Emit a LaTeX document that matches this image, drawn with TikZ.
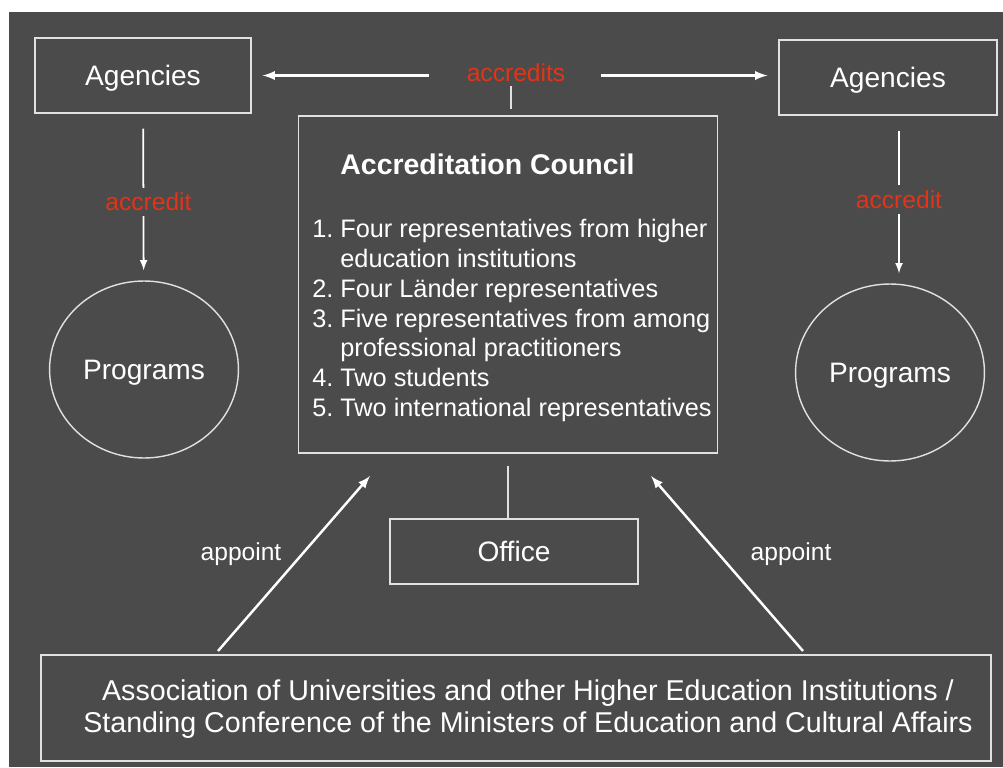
\documentclass[tikz,border=0pt]{standalone}
\usepackage{fontspec}
\setmainfont{Liberation Sans}
\usepackage{xcolor}
\usetikzlibrary{shapes.geometric}
\definecolor{slate}{RGB}{75,75,75}
\definecolor{rim}{RGB}{225,225,225}
\definecolor{redtext}{RGB}{226,52,22}

\begin{document}
\begin{tikzpicture}[x=0.02cm, y=-0.02cm,
  box/.style={rectangle, draw=rim, line width=0.8pt, text=white, font=\fontsize{16}{19}\selectfont, text height=11.5pt, text depth=0pt},
  roundnode/.style={ellipse, draw=rim, line width=0.8pt, text=white, font=\fontsize{16}{19}\selectfont, text height=11.5pt, text depth=0pt, minimum width=3.7cm, minimum height=3.54cm},
  redlabel/.style={text=redtext, font=\fontsize{14}{17}\selectfont, fill=slate, inner sep=3pt},
  whitelabel/.style={text=white, font=\fontsize{14}{17}\selectfont}]
            \useasboundingbox (0,0) rectangle (1003,767);
            \fill[slate] (9,12) rectangle (1003,767);

            \node[box, minimum width=4.32cm, minimum height=1.5cm] (agL) at (143,75.5) {Agencies};
            \node[box, minimum width=4.36cm, minimum height=1.5cm] (agR) at (888,77.5) {Agencies};
            \node[redlabel, fill=none] (accr) at (516,73) {accredits};
            \node[box, minimum width=8.36cm, minimum height=6.74cm, text height=, text depth=] (council) at (508,284.5) {%
              \fontsize{14.4}{17}\selectfont\hspace*{4.5pt}%
              \begin{tabular}{@{}r@{\hspace{4pt}}l@{}}
                & \rule{0pt}{17.6pt}\fontsize{16.2}{17}\selectfont\bfseries Accreditation Council\\[19pt]
                1. & Four representatives from higher\\
                   & education institutions\\
                2. & Four L\"ander representatives\\
                3. & Five representatives from among\\
                   & professional practitioners\\
                4. & Two students\\
                5. & Two international representatives
              \end{tabular}};
            \node[roundnode] (progL) at (144,369.5) {Programs};
            \node[roundnode, minimum width=3.72cm] (progR) at (890,372.5) {Programs};
            \node[box, minimum width=4.96cm, minimum height=1.3cm] (office) at (514,551.5) {Office};
            \node[box, minimum width=19cm, minimum height=2.12cm, text height=, text depth=, font=\fontsize{16.3}{18.5}\selectfont] (assoc) at (516,708)
              {\hspace*{13.6pt}\raisebox{0pt}[\dimexpr\height+2.3pt][\depth]{\begin{tabular}{@{}c@{}}
                Association of Universities and other Higher Education Institutions /\\
                Standing Conference of the Ministers of Education and Cultural Affairs
              \end{tabular}}};
            \node[whitelabel] (appL) at (241,554) {appoint};
            \node[whitelabel] (appR) at (791,554) {appoint};

            \coordinate (footL) at (218,651);
            \coordinate (footR) at (803,651);
            \coordinate (tipL) at (370,476);
            \coordinate (tipR) at (651,476);

            \tikzset{arr/.style={-latex, white, line width=1.4pt}}
            \tikzset{thin/.style={draw=rim, line width=0.8pt}}

            \draw[arr, shorten <=0.64cm, shorten >=0.22cm] (accr.west |- agL.east) -- (agL.east);
            \draw[arr, shorten <=0.6cm, shorten >=0.22cm] (accr.east |- agL.east) -- (agL.east -| agR.west);
            \draw[thin] (council.north) ++(3,-6) -- ++(0,-23);
            \draw[arr, line width=1pt, shorten <=0.3cm, shorten >=0.2cm] (agL) -- node[redlabel, pos=0.53, xshift=0.1cm] {accredit} (progL);
            \draw[arr, line width=1pt, shorten <=0.3cm, shorten >=0.2cm] ([xshift=0.22cm]agR.south) -- node[redlabel, pos=0.5] {accredit} ([xshift=0.22cm]agR.south |- progR.north);
            \draw[thin, shorten <=0.24cm] (council.south) -- (council.south |- office.north);
            \draw[arr] (footL) -- (tipL);
            \draw[arr] (footR) -- (tipR);

        \end{tikzpicture}
\end{document}
